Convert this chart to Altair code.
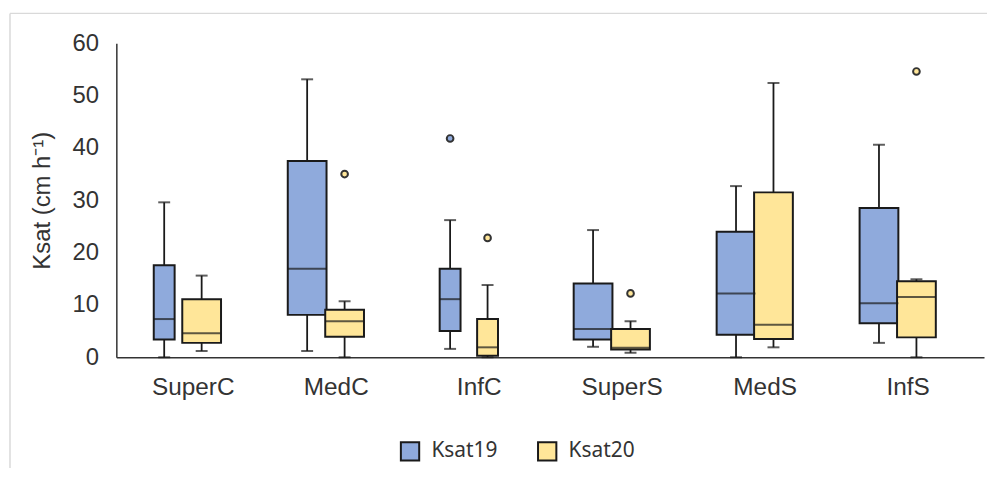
import altair as alt
import pandas as pd

cats = ["SuperC", "MedC", "InfC", "SuperS", "MedS", "InfS"]
series = ["Ksat19", "Ksat20"]
colors = ["#8FAADC", "#FFE699"]

k19_min = [0.0, 1.2, 1.6, 2.0, 0.0, 2.75]
k19_q1 = [3.4, 8.1, 5.0, 3.4, 4.3, 6.5]
k19_med = [7.3, 16.9, 11.1, 5.4, 12.2, 10.3]
k19_q3 = [17.6, 37.5, 16.9, 14.1, 24.0, 28.5]
k19_max = [29.6, 53.1, 26.2, 24.3, 32.7, 40.6]

k20_min = [1.2, 0.0, 0.0, 0.85, 1.9, 0.0]
k20_q1 = [2.75, 3.9, 0.3, 1.5, 3.5, 3.8]
k20_med = [4.6, 6.9, 1.9, 1.8, 6.2, 11.5]
k20_q3 = [11.1, 9.1, 7.3, 5.4, 31.5, 14.5]
k20_max = [15.6, 10.7, 13.8, 6.9, 52.4, 14.9]

out_cat = ["MedC", "InfC", "InfC", "SuperS", "InfS"]
out_series = ["Ksat20", "Ksat19", "Ksat20", "Ksat20", "Ksat20"]
out_val = [35.0, 41.8, 22.8, 12.2, 54.6]

rows = []
for i, c in enumerate(cats):
    rows.append(dict(cat=c, idx=i, series="Ksat19", lo=k19_min[i], q1=k19_q1[i],
                     med=k19_med[i], q3=k19_q3[i], hi=k19_max[i]))
    rows.append(dict(cat=c, idx=i, series="Ksat20", lo=k20_min[i], q1=k20_q1[i],
                     med=k20_med[i], q3=k20_q3[i], hi=k20_max[i]))
box_df = pd.DataFrame(rows)
out_df = pd.DataFrame(dict(cat=out_cat, series=out_series, val=out_val,
                           idx=[cats.index(c) for c in out_cat]))

pos_expr = "datum.idx + (datum.series == 'Ksat19' ? -0.2 : 0.062)"
narrow = "(datum.cat == 'SuperC' && datum.series == 'Ksat19') || datum.cat == 'InfC'"
width_cond = alt.condition(narrow, alt.value(21), alt.value(39))

label_expr = "[" + ",".join("'" + c + "'" for c in cats) + "][datum.value]"
ytitle = "Ksat (cm h⁻¹)"

X = alt.X("pos:Q", title=None,
          scale=alt.Scale(domain=[-0.5, 5.5], nice=False, zero=False),
          axis=alt.Axis(values=list(range(len(cats))), labelExpr=label_expr,
                        labelOverlap=False, labelFlush=False))
yscale = alt.Scale(domain=[0, 60], nice=False)

base = alt.Chart(box_df).transform_calculate(pos=pos_expr)

whisk = base.mark_rule(color="#1a1a1a", strokeWidth=1.8).encode(
    x=X, y=alt.Y("lo:Q", scale=yscale, title=ytitle), y2="hi:Q")
cap_hi = base.mark_tick(orient="horizontal", color="#1a1a1a", thickness=2, size=12).encode(
    x=X, y=alt.Y("hi:Q", scale=yscale, title=ytitle))
cap_lo = base.mark_tick(orient="horizontal", color="#1a1a1a", thickness=2, size=12).encode(
    x=X, y=alt.Y("lo:Q", scale=yscale, title=ytitle))
boxes = base.mark_bar(stroke="#1a1a1a", strokeWidth=2).encode(
    x=X, y=alt.Y("q1:Q", scale=yscale, title=ytitle), y2="q3:Q",
    size=width_cond,
    color=alt.Color("series:N", scale=alt.Scale(domain=series, range=colors),
                    legend=alt.Legend(title=None, orient="none", direction="horizontal",
                                      legendX=285, legendY=400, padding=0,
                                      symbolType="square", symbolSize=340,
                                      symbolStrokeColor="#1a1a1a", symbolStrokeWidth=2,
                                      symbolOpacity=1, labelFont="Noto Sans",
                                      labelFontSize=21, labelColor="#333333",
                                      labelOffset=11, columnPadding=36)))
meds = base.mark_tick(orient="horizontal", color="#1a1a1a", thickness=2).encode(
    x=X, y=alt.Y("med:Q", scale=yscale, title=ytitle), size=width_cond)

outs = alt.Chart(out_df).transform_calculate(pos=pos_expr).mark_point(
    shape="circle", filled=True, size=45, stroke="#333333", strokeWidth=2, opacity=1
).encode(x=X, y=alt.Y("val:Q", scale=yscale, title=ytitle),
         fill=alt.Fill("series:N", scale=alt.Scale(domain=series, range=colors), legend=None))

one = alt.Data(values=[{"a": 1}])
frame_top = alt.Chart(one).mark_rule(color="#d9d9d9", strokeWidth=1.5).encode(
    x=alt.value(-107), x2=alt.value(880), y=alt.value(-30))
frame_left = alt.Chart(one).mark_rule(color="#d9d9d9", strokeWidth=1.5).encode(
    x=alt.value(-107), y=alt.value(-30), y2=alt.value(450))

chart = alt.layer(frame_top, frame_left, whisk, cap_hi, cap_lo, boxes, meds, outs).properties(
    width=873, height=316,
    autosize=alt.AutoSizeParams(type="none"),
    padding={"left": 109, "top": 34, "right": 3, "bottom": 110},
    background="white",
).configure_view(stroke=None).configure_axisY(
    values=[0, 10, 20, 30, 40, 50, 60], grid=False, ticks=False,
    domainColor="#333333", domainWidth=1.5,
    labelFont="Liberation Sans", labelFontSize=24, labelColor="#333333", labelPadding=18,
    titleFont="Liberation Sans", titleFontSize=24, titleFontWeight="normal",
    titleColor="#333333", titlePadding=18,
).configure_axisX(
    grid=False, ticks=False, domainColor="#333333", domainWidth=1.5,
    labelFont="Liberation Sans", labelFontSize=24.5, labelColor="#333333", labelPadding=18,
)

chart.save("out.html", embed_options={"renderer": "svg", "actions": False})
